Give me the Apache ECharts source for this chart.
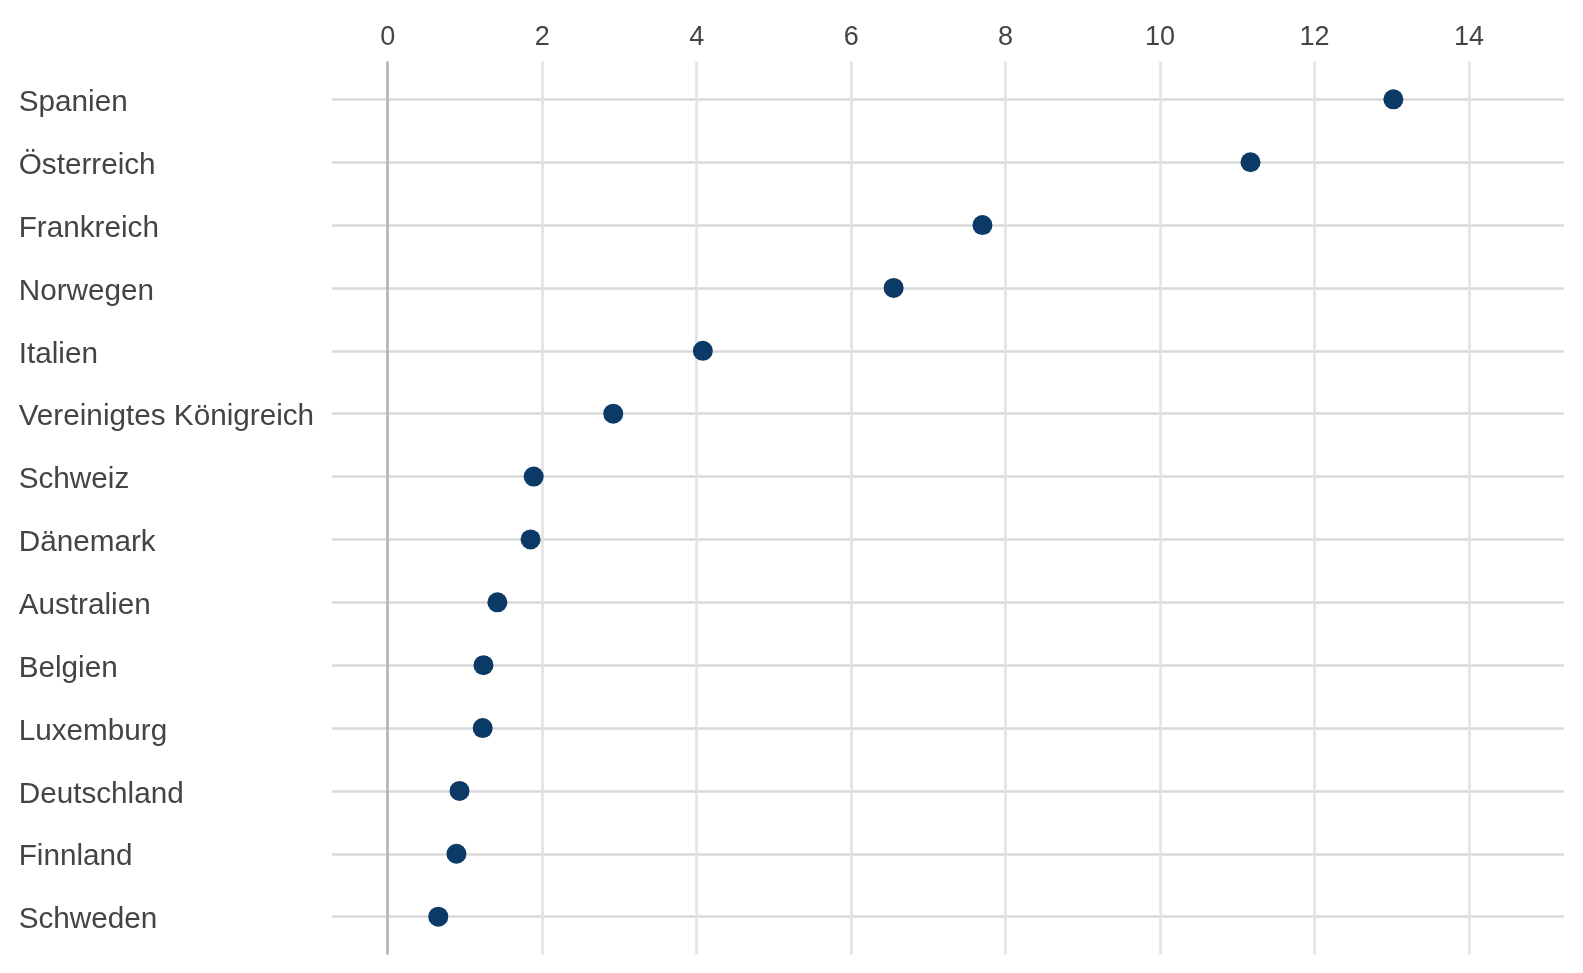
<!DOCTYPE html>
<html>
<head>
<meta charset="utf-8">
<script src="https://cdn.jsdelivr.net/npm/echarts@6/dist/echarts.min.js"></script>
<style>
html,body{margin:0;padding:0;background:#fff;}
#chart{width:1583px;height:973px;}
</style>
</head>
<body>
<div id="chart"></div>
<script>
const countries = ["Spanien","Österreich","Frankreich","Norwegen","Italien","Vereinigtes Königreich","Schweiz","Dänemark","Australien","Belgien","Luxemburg","Deutschland","Finnland","Schweden"];
const values = [13.02, 11.17, 7.70, 6.55, 4.08, 2.92, 1.89, 1.85, 1.42, 1.24, 1.23, 0.93, 0.89, 0.655];
const xTicks = [0, 2, 4, 6, 8, 10, 12, 14];

const rowIdx = countries.map((c, i) => i);
const points = values.map((v, i) => [v, i]);

const chart = echarts.init(document.getElementById('chart'), null, {renderer: 'canvas'});
chart.setOption({
  animation: false,
  backgroundColor: '#ffffff',
  grid: {left: 331.7, right: 19.3, top: 61.6, bottom: 18.6, containLabel: false},
  xAxis: {
    type: 'value', position: 'top',
    min: -0.725, max: 15.225,
    axisLine: {show: false}, axisTick: {show: false},
    splitLine: {show: false},
    axisLabel: {
      customValues: xTicks,
      margin: 11,
      color: '#444444',
      fontFamily: 'Liberation Sans, Arial, sans-serif',
      fontSize: 27
    }
  },
  yAxis: {
    type: 'value', inverse: true,
    min: -0.6, max: countries.length - 1 + 0.6,
    axisLine: {show: false}, axisTick: {show: false},
    splitLine: {show: false},
    axisLabel: {
      customValues: rowIdx,
      formatter: v => '{n|' + countries[Math.round(v)] + '}',
      align: 'left',
      margin: 313,
      color: '#444444',
      fontFamily: 'Liberation Sans, Arial, sans-serif',
      fontSize: 29.7,
      rich: {
        n: {
          padding: [7, 0, 0, 0],
          color: '#444444',
          fontFamily: 'Liberation Sans, Arial, sans-serif',
          fontSize: 29.7
        }
      }
    }
  },
  series: [
    {
      type: 'scatter', data: [], z: 1, silent: true,
      markLine: {
        silent: true, symbol: 'none', label: {show: false},
        lineStyle: {color: '#d9d9d9', width: 2.6, type: 'solid'},
        data: rowIdx.map(i => ({yAxis: i}))
      }
    },
    {
      type: 'scatter', data: [], z: 2, silent: true,
      markLine: {
        silent: true, symbol: 'none', label: {show: false},
        data: xTicks.map(t => ({xAxis: t, lineStyle: {color: t === 0 ? '#b3b3b3' : '#e3e3e3', width: 2.6, type: 'solid'}}))
      }
    },
    {
      type: 'scatter', z: 5,
      data: points,
      symbol: 'circle', symbolSize: 20,
      itemStyle: {color: '#0c3a66', opacity: 1}
    }
  ]
});
</script>
</body>
</html>
